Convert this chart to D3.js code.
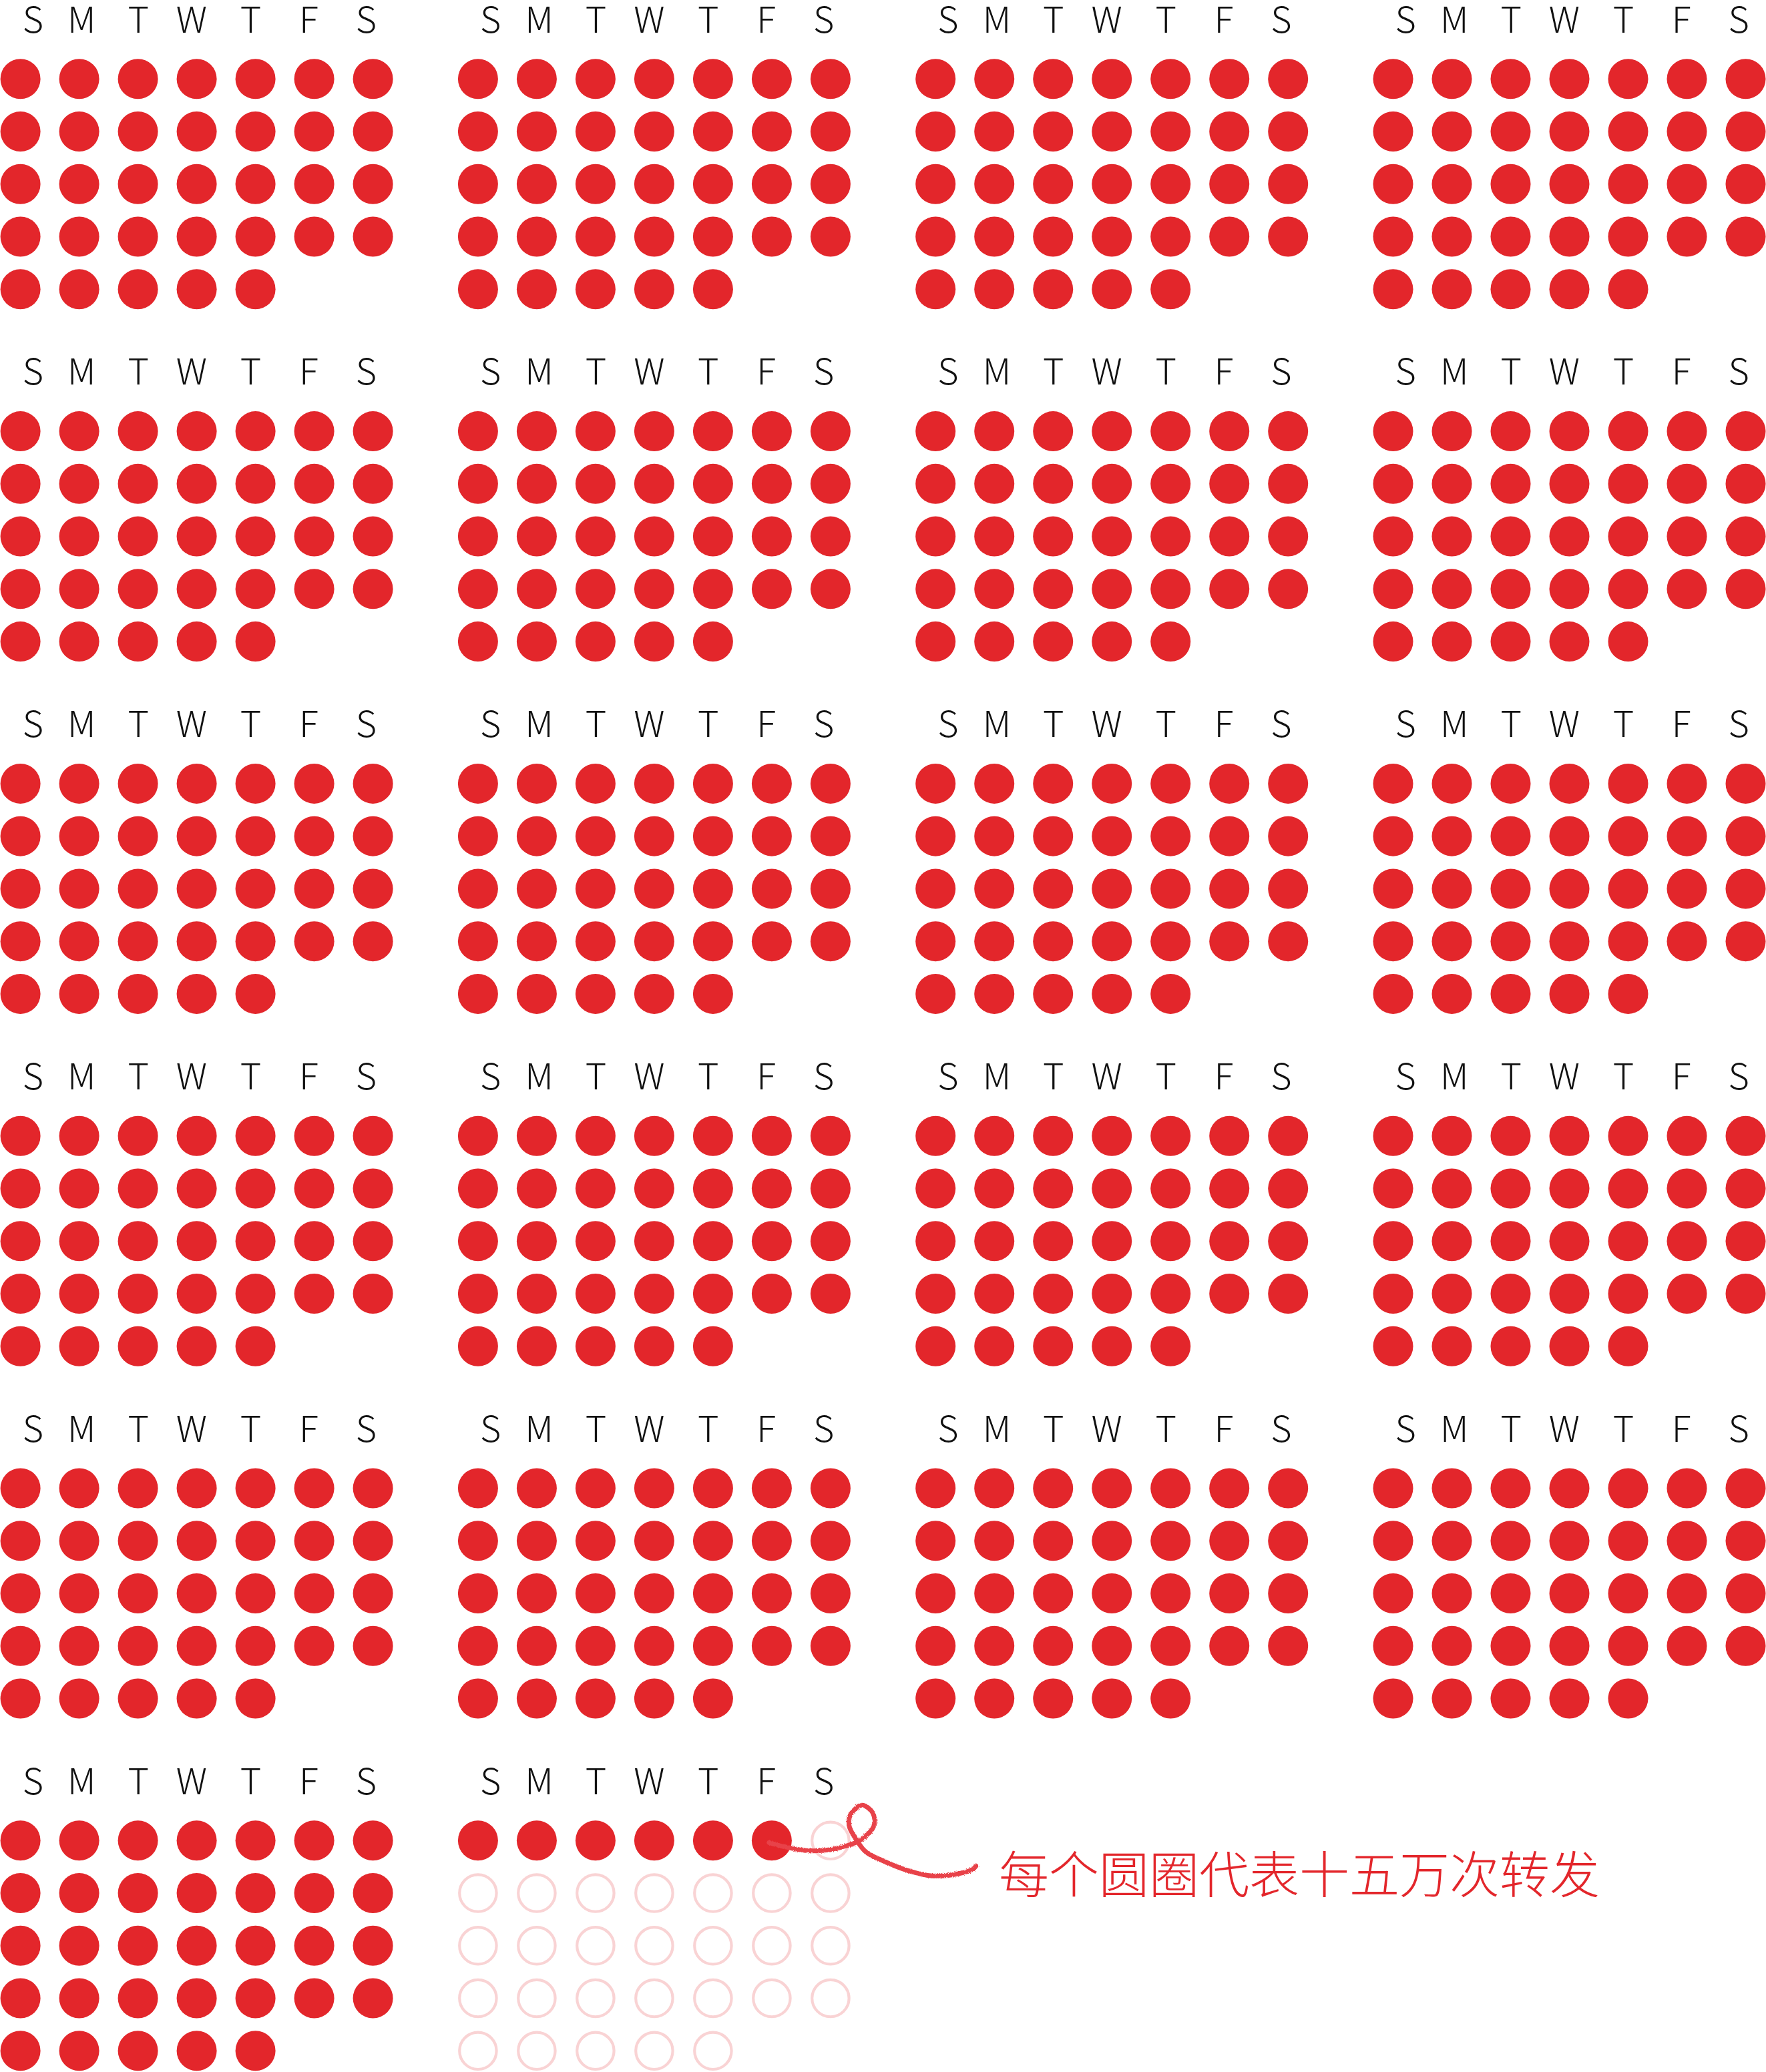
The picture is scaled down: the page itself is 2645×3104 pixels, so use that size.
<!DOCTYPE html>
<html>
<head>
<meta charset="utf-8">
<script src="https://cdn.jsdelivr.net/npm/d3@7"></script>
<style>
  html, body { margin: 0; padding: 0; background: #fff; }
  svg { display: block; }
</style>
</head>
<body>
<svg id="chart" width="2645" height="3104"></svg>
<script>
// ---- data ----
const weekdays = ["S", "M", "T", "W", "T", "F", "S"];
// circles per calendar block (rows of 7, last row 5)
const rowLengths = [7, 7, 7, 7, 5];
// filled circles in each block (each circle = 150,000 reposts)
const filledPerBlock = [33, 33, 33, 33, 33, 33, 33, 33, 33, 33, 33,
                        33, 33, 33, 33, 33, 33, 33, 33, 33, 33, 6];
const blockColumns = [0, 1, 2, 3];
const blockRows = [0, 1, 2, 3, 4, 5];
const noteText = "每个圆圈代表十五万次转发";

// ---- layout ----
const svg = d3.select("#chart");
const RED = "#e3262b";
const PINK = "#f9d3d4";

const blockX = d3.scalePoint().domain(blockColumns).range([30.6, 30.6 + 3 * 685.3]);
const blockY = d3.scalePoint().domain(blockRows).range([118.3, 118.3 + 5 * 527.8]);
const dayX = d3.scaleLinear().domain([0, 6]).range([0, 528]);
const weekY = d3.scaleLinear().domain([0, 4]).range([0, 315]);
// header letters sit slightly irregularly above their columns
const letterOffsets = [18.7, 91.7, 176.7, 256.4, 345, 431.7, 517.7];

const blocks = filledPerBlock.map((filled, i) => ({
  i, filled, col: i % 4, row: Math.floor(i / 4)
}));

const cells = [];
rowLengths.forEach((len, r) => {
  for (let c = 0; c < len; c++) cells.push({ r, c });
});

const g = svg.selectAll("g.block").data(blocks).join("g")
  .attr("class", "block")
  .attr("transform", d => `translate(${blockX(d.col)},${blockY(d.row)})`);

g.selectAll("text.wd").data(weekdays).join("text")
  .attr("class", "wd")
  .attr("x", (d, i) => letterOffsets[i])
  .attr("y", -69.8)
  .attr("text-anchor", "middle")
  .attr("font-family", "'Noto Sans CJK SC', 'Noto Sans', sans-serif")
  .attr("font-weight", 300)
  .attr("font-size", 54)
  .attr("fill", "#111")
  .text(d => d);

g.each(function(b) {
  d3.select(this).selectAll("circle").data(cells.map((c, k) => ({ ...c, k, on: k < b.filled })))
    .join("circle")
    .attr("cx", d => dayX(d.c))
    .attr("cy", d => weekY(d.r))
    .attr("r", d => d.on ? 30 : 27.7)
    .attr("fill", d => d.on ? RED : "none")
    .attr("stroke", d => d.on ? "none" : PINK)
    .attr("stroke-width", d => d.on ? 0 : 4.2);
});

// ---- annotation: hand-drawn squiggle from the last filled circle to the note ----
const lastBlock = blocks[blocks.length - 1];
const lastCell = cells[lastBlock.filled - 1];
const sx = blockX(lastBlock.col) + dayX(lastCell.c);
const sy = blockY(lastBlock.row) + weekY(lastCell.r);
// squiggle shape relative to the last filled circle's centre
const squiggleRel = [
  [-4, 3], [18, 9], [51, 15], [85, 14], [115, 7], [133, -1],
  [153, -22], [151, -42], [135, -53], [118, -39], [116, -22], [125, -4],
  [141, 17], [168, 31], [201, 44], [241, 53], [278, 50], [301, 43], [306, 38]
];
const squiggle = squiggleRel.map(([dx, dy]) => [sx + dx, sy + dy]);

const defs = svg.append("defs");
const f = defs.append("filter").attr("id", "rough")
  .attr("x", "-10%").attr("y", "-20%").attr("width", "120%").attr("height", "140%");
f.append("feTurbulence").attr("type", "fractalNoise").attr("baseFrequency", 0.9)
  .attr("numOctaves", 2).attr("result", "noise");
f.append("feDisplacementMap").attr("in", "SourceGraphic").attr("in2", "noise")
  .attr("scale", 3.5);

svg.append("path")
  .datum(squiggle)
  .attr("d", d3.line().curve(d3.curveCatmullRom.alpha(0.5)))
  .attr("fill", "none")
  .attr("stroke", "#e8424a")
  .attr("stroke-width", 7)
  .attr("stroke-linecap", "round")
  .attr("filter", "url(#rough)");

svg.append("text")
  .attr("x", 1496)
  .attr("y", 2836)
  .attr("font-family", "'Noto Sans CJK SC', sans-serif")
  .attr("font-weight", 300)
  .attr("font-size", 75)
  .attr("fill", RED)
  .text(noteText);
</script>
</body>
</html>
